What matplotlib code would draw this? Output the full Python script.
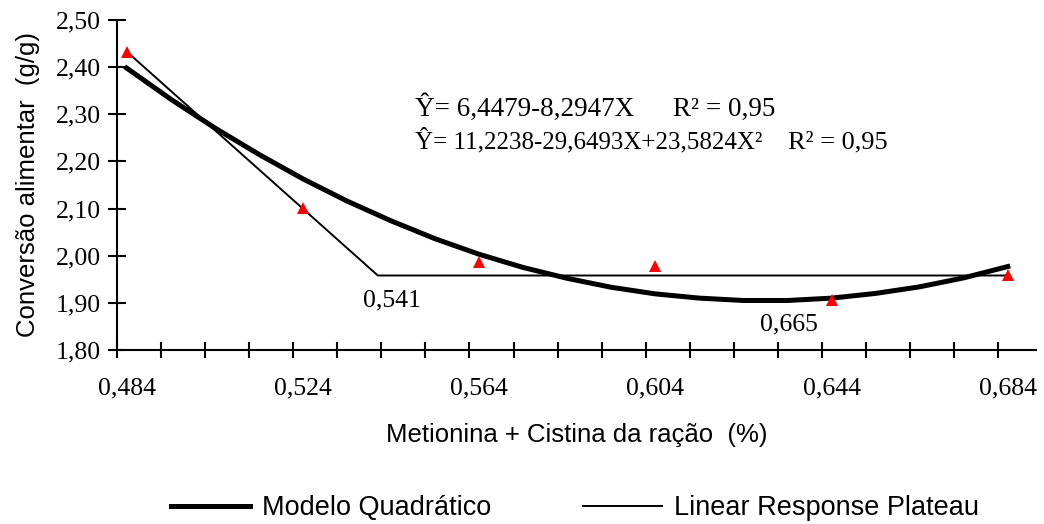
import matplotlib
matplotlib.use("Agg")
import matplotlib.pyplot as plt
import numpy as np

# observed means (red triangles)
obs_x = [0.484, 0.524, 0.564, 0.604, 0.644, 0.684]
obs_y = [2.432, 2.101, 1.986, 1.978, 1.906, 1.959]

# quadratic model curve
quad_x = [0.484, 0.494, 0.504, 0.514, 0.524, 0.534, 0.544, 0.554, 0.564, 0.574, 0.584,
          0.594, 0.604, 0.614, 0.624, 0.634, 0.644, 0.654, 0.664, 0.674, 0.684]
quad_y = [2.398, 2.332, 2.271, 2.215, 2.163, 2.116, 2.074, 2.036, 2.003, 1.975, 1.952,
          1.933, 1.919, 1.910, 1.905, 1.905, 1.910, 1.920, 1.934, 1.953, 1.977]

# linear response plateau
lrp_x = [0.484, 0.541, 0.684]
lrp_y = [2.433, 1.958, 1.958]

x_ticklabels = ["0,484", "0,524", "0,564", "0,604", "0,644", "0,684"]
y_ticks = [1.80, 1.90, 2.00, 2.10, 2.20, 2.30, 2.40, 2.50]

serif = "Liberation Serif"
sans = "Liberation Sans"

fig = plt.figure(figsize=(10.44, 5.24), dpi=100)
ax = fig.add_axes([0.1121, 0.3321, 0.8802, 0.6297])

ax.plot(quad_x, quad_y, color="black", lw=3.6, label="Modelo Quadrático",
        solid_joinstyle="round", zorder=3)
ax.plot(lrp_x, lrp_y, color="black", lw=1.4, label="Linear Response Plateau", zorder=2)
ax.plot(obs_x, obs_y, linestyle="none", marker="^", color="red", markersize=8.5,
        markeredgewidth=0, zorder=4)

ax.set_xlim(0.4818, 0.6904)
ax.set_ylim(1.80, 2.50)

for s in ["top", "right"]:
    ax.spines[s].set_visible(False)
for s in ["left", "bottom"]:
    ax.spines[s].set_linewidth(1.5)

# x: labels without marks, marks on minor ticks
ax.set_xticks(obs_x)
ax.set_xticklabels(x_ticklabels, fontfamily=serif, fontsize=18.5)
ax.tick_params(axis="x", which="major", length=0, pad=20)
ax.set_xticks(0.4818 + 0.01 * np.arange(21), minor=True)
ax.tick_params(axis="x", which="minor", direction="inout", length=11, width=1.5)

ax.set_yticks(y_ticks)
ax.set_yticklabels([f"{v:.2f}".replace(".", ",") for v in y_ticks],
                   fontfamily=serif, fontsize=18.5)
ax.tick_params(axis="y", direction="inout", length=13, width=1.5, pad=5)

ax.set_xlabel("Metionina + Cistina da ração  (%)", fontfamily=sans, fontsize=18.5)
ax.xaxis.set_label_coords(0.5, -0.22)
ax.set_ylabel("Conversão alimentar  (g/g)", fontfamily=sans, fontsize=18.5)
ax.yaxis.set_label_coords(-0.084, 0.5)

# annotations
ax.text(0.5442, 1.906, "0,541", fontfamily=serif, fontsize=18.5, ha="center", va="center")
ax.text(0.6344, 1.855, "0,665", fontfamily=serif, fontsize=18.5, ha="center", va="center")

ax.text(0.5494, 2.2964, "Ŷ= 6,4479-8,2947X", fontfamily=serif, fontsize=19.5,
        ha="left", va="baseline")
ax.text(0.6080, 2.2964, "R² = 0,95", fontfamily=serif, fontsize=19.5,
        ha="left", va="baseline")
ax.text(0.5494, 2.2285, "Ŷ= 11,2238-29,6493X+23,5824X²", fontfamily=serif, fontsize=18,
        ha="left", va="baseline")
ax.text(0.6341, 2.2285, "R² = 0,95", fontfamily=serif, fontsize=19,
        ha="left", va="baseline")

fig.legend(loc="center", bbox_to_anchor=(0.551, 0.0305), ncol=2, frameon=False,
           prop={"family": sans, "size": 19.5}, handlelength=2.9,
           handletextpad=0.45, columnspacing=3.4)

fig.savefig("out.png", dpi=100)
